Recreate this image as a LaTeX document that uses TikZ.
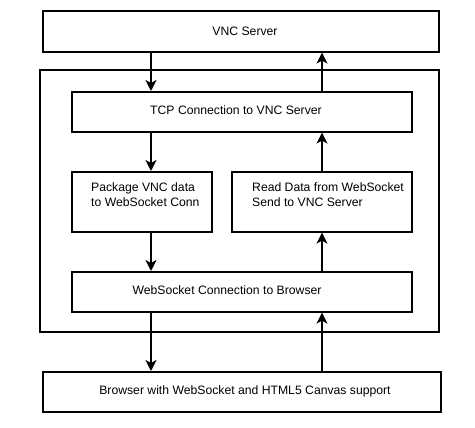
\documentclass[tikz,border=0pt]{standalone}
\usepackage{fontspec}
\setmainfont{Liberation Sans}
\usetikzlibrary{arrows.meta}
\begin{document}
\begin{tikzpicture}[x=1pt,y=-1pt,
  box/.style={draw,line width=1.6pt},
  lbl/.style={font=\fontsize{12.2}{15.6}\selectfont,inner sep=0pt},
  arr/.style={line width=1.6pt,-{Stealth[length=11pt,width=11pt,inset=3pt]}}]
\useasboundingbox (0,0) rectangle (475,428);
\node[box,minimum width=396pt,minimum height=41pt,anchor=north west] (vnc) at (42,10) {};
\node[box,minimum width=399pt,minimum height=262pt,anchor=north west] (outer) at (39,69) {};
\node[box,minimum width=340pt,minimum height=40pt,anchor=north west] (tcp) at (71,91) {};
\node[box,minimum width=140pt,minimum height=60pt,anchor=north west] (pkg) at (71,171) {};
\node[box,minimum width=180pt,minimum height=60pt,anchor=north west] (read) at (231,171) {};
\node[box,minimum width=340pt,minimum height=40pt,anchor=north west] (ws) at (71,271) {};
\node[box,minimum width=398pt,minimum height=40pt,anchor=north west] (br) at (42,371) {};
\node[lbl] (tvnc) at (245,31) {VNC Server};
\node[lbl] (ttcp) at (236,110) {TCP Connection to VNC Server};
\node[lbl,align=left,anchor=west] (tpkg) at (91,194.5) {Package VNC data\\to WebSocket Conn};
\node[lbl,align=left,anchor=west] (tread) at (252,194.5) {Read Data from WebSocket\\Send to VNC Server};
\node[lbl] (tws) at (227,290) {WebSocket Connection to Browser};
\node[lbl] (tbr) at (245,391) {Browser with WebSocket and HTML5 Canvas support};
\coordinate (L) at (151,0);
\coordinate (R) at (322,0);
\draw[arr] (vnc.south -| L) -- (tcp.north -| L);
\draw[arr] (tcp.north -| R) -- (vnc.south -| R);
\draw[arr] (tcp.south -| L) -- (pkg.north -| L);
\draw[arr] (read.north -| R) -- (tcp.south -| R);
\draw[arr] (pkg.south -| L) -- (ws.north -| L);
\draw[arr] (ws.north -| R) -- (read.south -| R);
\draw[arr] (ws.south -| L) -- (br.north -| L);
\draw[arr] (br.north -| R) -- (ws.south -| R);
\end{tikzpicture}
\end{document}
